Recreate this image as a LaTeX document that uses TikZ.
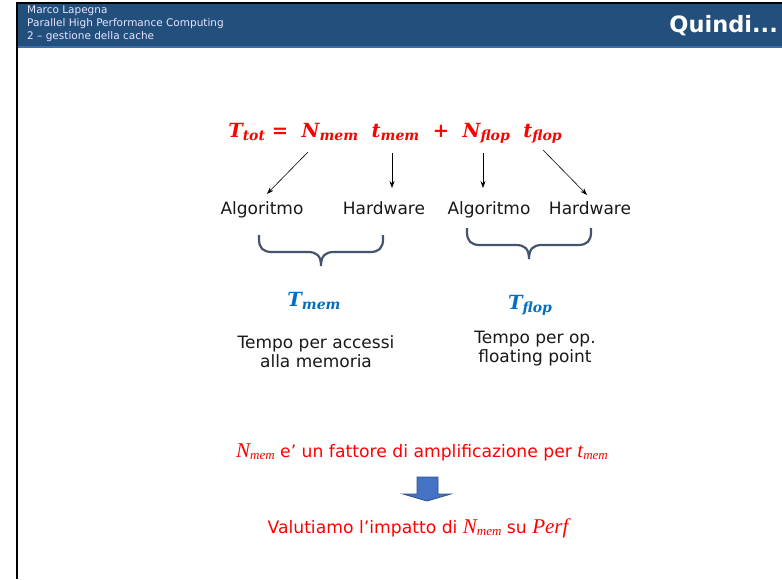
\documentclass[tikz,border=0pt]{standalone}
\usepackage{fontspec}
\setmainfont{DejaVu Sans}
\newfontfamily\eqfont{Liberation Serif}
\newfontfamily\bigeqfont{DejaVu Serif}
\usetikzlibrary{arrows.meta}

\definecolor{headblue}{HTML}{234F7C}
\definecolor{headline}{HTML}{3A70A8}
\definecolor{eqred}{HTML}{FF0000}
\definecolor{tblue}{HTML}{0070C0}
\definecolor{bracegray}{HTML}{44546A}
\definecolor{boxblue}{HTML}{4472C4}
\definecolor{boxedge}{HTML}{2F528F}

% variable with subscript, bold italic serif
\newcommand\eqvar[2]{#1\raisebox{-0.3ex}{\fontsize{14}{14}\selectfont #2}}
% variable with subscript, plain italic serif
\newcommand\txvar[2]{{\eqfont\itshape\fontsize{21}{21}\selectfont #1\raisebox{-0.3ex}{\fontsize{13}{13}\selectfont #2}}}

\tikzset{
  label/.style={font=\fontsize{17}{19}\selectfont, text=black!90, align=center, inner sep=0pt},
  eqnode/.style={font=\bigeqfont\bfseries\itshape\fontsize{19.5}{20}\selectfont, inner sep=0pt},
  redline/.style={font=\fontsize{17.2}{19}\selectfont, text=eqred, inner sep=0pt, anchor=base},
  arr/.style={-{Stealth[length=7pt,width=5pt]}, line width=0.6pt, black},
  curlybrace/.pic={
    \draw[bracegray, line width=2.2pt]
      (0,0) -- (0,4) .. controls (0,13) and (4,17) .. (13,17) -- (49,17)
      .. controls (58,17) and (62,21) .. (62,31)
      .. controls (62,21) and (66,17) .. (75,17) -- (111,17)
      .. controls (120,17) and (124,13) .. (124,4) -- (124,0);
  }
}

\begin{document}
\begin{tikzpicture}[x=1pt, y=-1pt]
\useasboundingbox (0,0) rectangle (782,579);
\fill[white] (0,0) rectangle (782,579);

% header
\fill[headblue] (17,3) rectangle (782,46);
\fill[headline] (17,46) rectangle (782,48);
\draw[black, line width=2pt] (17,579) -- (17,3) -- (782,3);
\node[anchor=north west, align=left, text=white!90!blue, inner sep=0pt,
  font=\fontsize{10.5}{13}\selectfont] (author) at (27,6)
  {Marco Lapegna\\Parallel High Performance Computing\\2 -- gestione della cache};
\node[anchor=east, text=white, inner sep=0pt,
  font=\bfseries\fontsize{22.5}{22}\selectfont] (title) at (778,26) {Quindi...};

% formula
\node[eqnode, text=eqred, anchor=base] (formula) at (395,137)
  {\eqvar{T}{tot}\ =\ \ \eqvar{N}{mem}\ \ \eqvar{t}{mem}\ \ +\ \ \eqvar{N}{flop}\ \ \eqvar{t}{flop}};

\coordinate (s1) at (308,152);
\coordinate (s2) at (392,153);
\coordinate (s3) at (483,153);
\coordinate (s4) at (543,150);

\node[label, anchor=base] (alg1) at (262,214) {Algoritmo};
\node[label, anchor=base] (hw1) at (384,214) {Hardware};
\node[label, anchor=base] (alg2) at (489,214) {Algoritmo};
\node[label, anchor=base] (hw2) at (590,214) {Hardware};

\draw[arr] (s1) -- ([xshift=5pt, yshift=7pt]alg1.north);
\draw[arr] (s2) -- (s2 |- 0,188);
\draw[arr] (s3) -- (s3 |- 0,188);
\draw[arr] (s4) -- ([xshift=-3pt, yshift=6pt]hw2.north);

% braces
\pic at (259,235) {curlybrace};
\pic at (467,228) {curlybrace};

% times
\node[eqnode, text=tblue, anchor=base] (tmem) at (314,306) {\eqvar{T}{mem}};
\node[eqnode, text=tblue, anchor=base] (tflop) at (530,309) {\eqvar{T}{flop}};

\node[label] (memdesc) at (316,352) {Tempo per accessi\\alla memoria};
\node[label] (flopdesc) at (535,349) {Tempo per op.\\floating point};

% conclusion
\node[redline] (amplif) at (422,457)
  {\txvar{N}{mem} e’ un fattore di amplificazione per \txvar{t}{mem}};

\draw[boxedge, fill=boxblue, line width=0.8pt]
  (417,477) -- (438,477) -- (438,494) -- (451,494) -- (427,501)
  -- (403,494) -- (417,494) -- cycle;

\node[redline] (impatto) at (418,533)
  {Valutiamo l’impatto di \txvar{N}{mem} su {\eqfont\itshape\fontsize{21}{21}\selectfont Perf}};
\end{tikzpicture}
\end{document}
